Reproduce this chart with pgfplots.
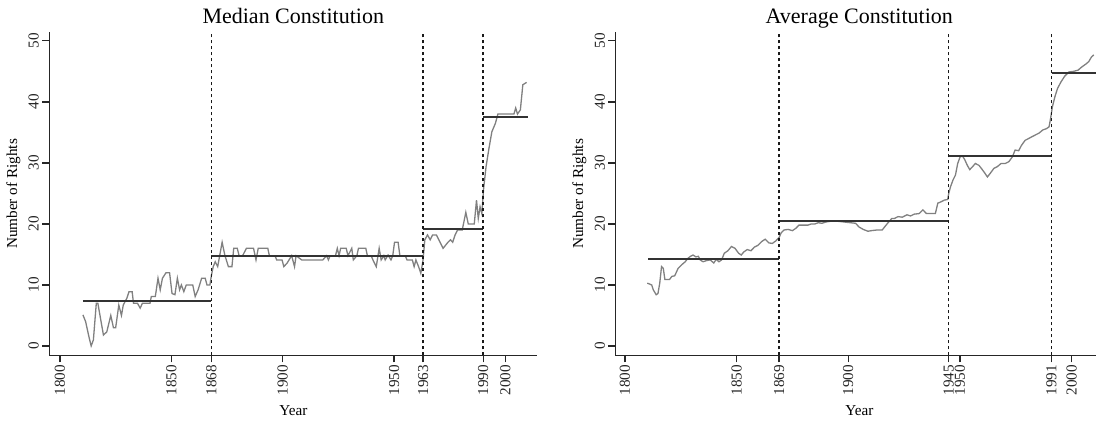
\documentclass[border=0pt]{standalone}
\usepackage{fontspec}
\setmainfont{Liberation Serif}
\usepackage{pgfplots}
\pgfplotsset{compat=1.18}

\pgfplotsset{
  rstyle/.style={
    scale only axis, width=244pt, height=161.6pt,
    ymin=-1.56, ymax=51.4,
    axis x line*=bottom, axis y line*=left,
    axis line style={color=black!85, line width=0.65pt},
    every tick/.style={black!85, line width=0.65pt},
    tick align=outside, major tick length=3.5pt,
    ytick={0,10,...,50},
    /pgf/number format/assume math mode=true,
    /pgf/number format/1000 sep={},
    tick label style={font=\fontsize{7.6}{9}\selectfont, text=black!85},
    xticklabel style={rotate=90, anchor=east, inner sep=1pt},
    yticklabel style={rotate=90, anchor=south, inner sep=1.5pt},
    xlabel={Year}, ylabel={Number of Rights},
    every axis x label/.style={at={(axis description cs:0.5,0)}, yshift=-27.75pt, anchor=center, font=\fontsize{7.6}{9}\selectfont},
    every axis y label/.style={at={(axis description cs:0,0.5)}, xshift=-18pt, rotate=90, anchor=center, font=\fontsize{7.6}{9}\selectfont},
    every axis title/.style={at={(axis description cs:0.5,1)}, yshift=4.5pt, anchor=base, font=\fontsize{11}{13}\selectfont},
  },
  dataline/.style={color=black!50, line width=0.65pt, mark=none},
  meanline/.style={color=black!80, line width=1pt, mark=none},
  vline/.style={color=black!90, line width=0.7pt, dash pattern=on 1.5pt off 1.5pt, mark=none},
}

\begin{document}
\begin{tikzpicture}
\path[use as bounding box] (-24.65pt,-32.75pt) rectangle (523.35pt,177.75pt);
\clip (-24.65pt,-32.75pt) rectangle (523.35pt,177.75pt);

\begin{axis}[rstyle, at={(0pt,0pt)}, anchor=south west,
  xmin=1795.2, xmax=2014.3,
  xtick={1800,1850,1868,1900,1950,1963,1990,2000},
  title={Median Constitution}]
\addplot[dataline] coordinates {
(1810.3,5.1) (1811.5,4) (1813,1.5) (1814,0) (1815,1) (1816.3,7) (1817,7) (1819.5,1.8) (1821,2.3)
(1822.8,5) (1824,3) (1825,3) (1826.4,6.7) (1827.6,5) (1828.4,6.7) (1830,7.8) (1831,8.9)
(1832.4,8.9) (1833,7) (1834.8,7) (1836,6.2) (1837,7) (1840.4,7) (1841,8.1) (1842.8,8.1)
(1844,11.1) (1845,9.2) (1846,11.1) (1847.6,12) (1849.2,12) (1850.3,8.6) (1851.6,8.4)
(1852.7,11.1) (1853.7,9.2) (1854.5,10) (1855.6,8.9) (1856.7,10) (1859.6,10) (1860.7,8.1)
(1862,9.2) (1863.6,11.1) (1865.2,11.1) (1866,10) (1867.3,10) (1868,11.6) (1868.8,13)
(1869.7,13.8) (1870.8,13) (1872.8,17) (1874,14.9) (1875.6,13) (1877.2,13) (1878,16)
(1879.6,16) (1880.4,14.8) (1882,14.8) (1883.7,16) (1886.9,16) (1888,14.1) (1889,16)
(1893.3,16) (1894,14.8) (1896.5,14.8) (1897.3,14.1) (1899.7,14.1) (1900.5,13) (1902,13.6)
(1904,14.8) (1905.3,13) (1906,14.8) (1908.5,14.1) (1918,14.1) (1919.7,14.8) (1920.5,14.1)
(1921.3,14.8) (1923.7,14.8) (1924.5,16) (1925.3,14.8) (1926,16) (1928.5,16) (1929.3,14.8)
(1931,16) (1931.7,14.1) (1933.3,14.8) (1934,16) (1937.3,16) (1938,14.8) (1939.7,14.8)
(1940.5,14.1) (1942,13) (1943.3,16) (1944.2,14.1) (1945.4,14.8) (1946,14.1) (1947.3,14.9)
(1948.6,14.1) (1949.4,14.8) (1950.2,17) (1951.8,17) (1952.6,14.8) (1955,14.8) (1955.8,14.1)
(1958.2,14.1) (1959,13) (1959.8,14.1) (1961,13) (1962,11.9) (1963,14.1) (1963.8,17.4)
(1965,18.2) (1966.2,17.4) (1967.3,18.2) (1969,18.2) (1970.5,17.1) (1972,16) (1974.2,17)
(1975.3,17.4) (1976.3,17) (1977.4,18.2) (1978.5,19) (1980.6,19) (1982.2,21.9) (1983.3,20)
(1986,20) (1987,23.9) (1987.8,20.9) (1988.6,22.8) (1989.4,21.7) (1990.2,25.8) (1991.3,29.4)
(1992.6,32.4) (1993.9,35.1) (1995.5,36.5) (1996.6,38) (2003.8,38) (2004.6,39) (2005.4,38)
(2006.7,38.7) (2007.8,42.8) (2009.5,43.2)
};
\addplot[meanline] coordinates {(1810.3,7.4) (1868,7.4)};
\addplot[meanline] coordinates {(1868,14.8) (1963,14.8)};
\addplot[meanline] coordinates {(1963,19.1) (1990,19.1)};
\addplot[meanline] coordinates {(1990,37.6) (2010,37.6)};
\addplot[vline] coordinates {(1868,-1.56) (1868,51.4)};
\addplot[vline] coordinates {(1963,-1.56) (1963,51.4)};
\addplot[vline] coordinates {(1990,-1.56) (1990,51.4)};
\end{axis}

\begin{axis}[rstyle, at={(283pt,0pt)}, anchor=south west,
  xmin=1795.7, xmax=2014.2,
  xtick={1800,1850,1869,1900,1945,1950,1991,2000},
  title={Average Constitution}]
\addplot[dataline] coordinates {
(1810,10.3) (1812,10) (1812.7,9.2) (1814,8.4) (1814.8,8.6) (1815.6,10.3) (1816.4,13)
(1817.2,12.7) (1817.9,10.9) (1820,10.9) (1821,11.4) (1822.3,11.5) (1823.8,12.7) (1825.4,13.3)
(1827,13.8) (1828.3,14.4) (1829.4,14.7) (1830.5,14.9) (1831.8,14.6) (1832.9,14.7) (1833.7,14.1)
(1835,13.8) (1836.6,14) (1838.2,14.1) (1839.8,13.6) (1840.9,14.2) (1842.1,13.8) (1843.3,14.1)
(1844.5,15.2) (1846.1,15.6) (1847.7,16.3) (1849.3,16) (1850.9,15.2) (1852.1,14.9) (1853.2,15.4)
(1854.8,15.8) (1856.4,15.6) (1858,16.2) (1859.6,16.5) (1861.2,17.1) (1862.8,17.5) (1864.4,16.9)
(1866,16.8) (1867.5,17.2) (1869.1,17.8) (1869.9,18.5) (1871.2,19) (1873.1,19.1) (1875,18.9)
(1876.6,19.3) (1877.9,19.8) (1879.5,19.8) (1881.9,19.8) (1883.5,20) (1885.1,20) (1886.6,20.2)
(1888.2,20.1) (1889.8,20.3) (1891.4,20.4) (1893.8,20.5) (1896.1,20.4) (1898.5,20.3) (1900.9,20.2)
(1903.3,20.1) (1904.8,19.5) (1906.7,19.1) (1908.8,18.8) (1910.4,18.9) (1912.8,19) (1915.2,19)
(1916.7,19.7) (1918.3,20.4) (1919.5,20.9) (1920.7,20.9) (1922.3,21.2) (1924.2,21.1) (1926.3,21.5)
(1927.9,21.3) (1929.5,21.6) (1931.8,21.7) (1933.4,22.3) (1935,21.7) (1937.4,21.7) (1939,21.7)
(1940.1,23.4) (1941.4,23.6) (1943,23.9) (1944.5,24) (1945,25) (1945.8,26.1) (1946.9,27.2)
(1948,28) (1949,29.9) (1950.1,31) (1951.2,31.1) (1952.2,30.5) (1953.3,29.6) (1954.4,28.9)
(1955.7,29.4) (1956.9,29.9) (1958.5,29.6) (1959.6,29.1) (1961.2,28.3) (1962.3,27.7) (1963.6,28.3)
(1965.2,29.1) (1966.8,29.4) (1968.4,29.9) (1970.3,29.9) (1971.9,30.2) (1973.5,31) (1974.7,32.1)
(1976.3,32) (1977.6,32.9) (1979.2,33.7) (1980.8,34) (1982.3,34.3) (1983.9,34.6) (1985.5,34.9)
(1987.1,35.4) (1988.7,35.6) (1989.9,35.9) (1990.6,37.3) (1991.4,39.2) (1992.5,40.8) (1993.7,42.2)
(1995.3,43.3) (1996.9,44.2) (1998.8,44.9) (2000.9,45) (2002.9,45.2) (2004.5,45.7) (2006.4,46.2)
(2007.7,46.6) (2008.8,47.3) (2009.9,47.7)
};
\addplot[meanline] coordinates {(1810.4,14.2) (1869,14.2)};
\addplot[meanline] coordinates {(1869,20.4) (1945,20.4)};
\addplot[meanline] coordinates {(1945,31.2) (1991,31.2)};
\addplot[meanline] coordinates {(1991,44.65) (2014,44.65)};
\addplot[vline] coordinates {(1869,-1.56) (1869,51.4)};
\addplot[vline] coordinates {(1945,-1.56) (1945,51.4)};
\addplot[vline] coordinates {(1991,-1.56) (1991,51.4)};
\end{axis}
\end{tikzpicture}
\end{document}
